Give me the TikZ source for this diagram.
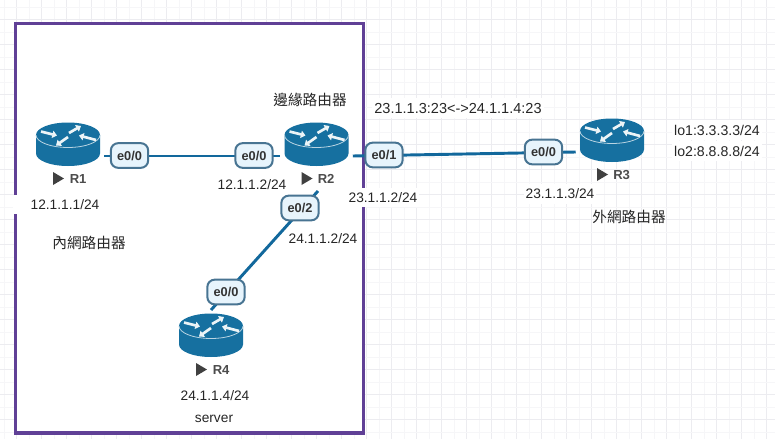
\documentclass[tikz,border=0pt]{standalone}
\usepackage{fontspec}
\setmainfont{Liberation Sans}
\newfontfamily\cjkfont{Noto Sans CJK TC}
\usetikzlibrary{arrows.meta}
\definecolor{boxpurple}{RGB}{96,64,150}
\definecolor{linkblue}{RGB}{18,104,156}
\definecolor{routerblue}{RGB}{22,112,160}
\definecolor{portfill}{RGB}{231,244,252}
\definecolor{portedge}{RGB}{72,116,146}
\definecolor{gridminor}{RGB}{246,246,248}
\definecolor{gridmajor}{RGB}{236,236,240}
\tikzset{
	iptext/.style={fill=white,inner xsep=1.5pt,inner ysep=3.5pt,font=\fontsize{10.3pt}{12pt}\selectfont,text=black!85},
	cjktext/.style={font=\cjkfont\fontsize{11pt}{12pt}\selectfont,text=black!85},
	port/.style={draw=portedge,fill=portfill,line width=1.5pt,rounded corners=5.5pt,minimum width=28pt,minimum height=18.5pt,inner sep=0pt,font=\bfseries\fontsize{9.6pt}{11pt}\selectfont,text=black!80},
	router/.style={minimum width=54pt,minimum height=20pt,inner sep=0pt},
	rname/.style={font=\bfseries\fontsize{9.8pt}{11pt}\selectfont,text=black!70,anchor=west,inner sep=0pt},
	link/.style={linkblue,line width=2.2pt},
	wing/.style={white!92!routerblue,line width=2pt,-{Triangle[length=3.5pt,width=5.5pt]}},
	routerpic/.pic={
		\fill[routerblue] (-32,-21) -- (-32,-2.5) arc[start angle=180,end angle=0,x radius=32,y radius=12.5] -- (32,-21) -- cycle;
		\fill[routerblue] (0,-21) ellipse[x radius=32,y radius=12.5];
		\draw[white!70!routerblue,line width=0.6pt] (-32,-21) arc[start angle=180,end angle=0,x radius=32,y radius=12.5];
		\draw[wing] (-27,-24.5) -- (-11,-20.5);
		\draw[wing] (1,-23) -- (13,-30);
		\draw[wing] (0,-19) -- (-12,-10.5);
		\draw[wing] (28,-16) -- (11,-20.5);
		% play mark under the router
		\fill[black!75] (-15,16) -- (-4,22.5) -- (-15,29) -- cycle;
	}
}

\begin{document}
\begin{tikzpicture}[x=0.75pt,y=-0.75pt,line cap=butt,line join=miter]
	\useasboundingbox (0,0) rectangle (775,439);
	\fill[white] (0,0) rectangle (775,439);

	% grid of the canvas
	\foreach \gx in {0,...,31} {
		\draw[gridminor,line width=0.75pt] (4+25*\gx,0)--(4+25*\gx,439);
		\draw[gridmajor,line width=0.75pt] (-8.5+25*\gx,0)--(-8.5+25*\gx,439);
	}
	\foreach \gy in {0,...,17} {
		\draw[gridminor,line width=0.75pt] (0,7+25*\gy)--(775,7+25*\gy);
		\draw[gridmajor,line width=0.75pt] (0,19.5+25*\gy)--(775,19.5+25*\gy);
	}

	% frame of the inside network
	\draw[boxpurple,line width=2.3pt,fill=white] (15.5,23.5) rectangle (363.5,433);

	% routers, placed at the height of their links
	\node[router] (R1) at (68,156) {};
	\node[router] (R2) at (316.5,156) {};
	\node[router] (R3) at (612,152) {};
	\node[router] (R4) at (211,347) {};
	\coordinate (R2low) at (318,191);
	\coordinate (R4top) at (211,310);

	% links
	\draw[link] (R1)--(R2);
	\draw[link] (R2.east)--(R3.west);
	\draw[link] (R2low)--(R4top);

	\pic at (R1) {routerpic};
	\pic at (R2) {routerpic};
	\pic at (R3) {routerpic};
	\pic at (R4) {routerpic};

	\node[rname] (nameR1) at (69.5,179) {R1};
	\node[rname] (nameR2) at (317.5,179) {R2};
	\node[rname] (nameR3) at (613,175) {R3};
	\node[rname] (nameR4) at (212.5,370) {R4};

	% interface labels
	\node[port] (p1) at (129.5,155.5) {e0/0};
	\node[port] (p2a) at (254,155.5) {e0/0};
	\node[port] (p2b) at (384,155) {e0/1};
	\node[port] (p2c) at (300,208) {e0/2};
	\node[port] (p3) at (543.5,152) {e0/0};
	\node[port] (p4) at (226,292) {e0/0};

	% addresses
	\node[iptext,inner xsep=13pt] (ipR1) at (65,204.5) {12.1.1.1/24};
	\node[iptext] (ipR2a) at (252,184.5) {12.1.1.2/24};
	\node[iptext] (ipR2b) at (383,197.5) {23.1.1.2/24};
	\node[iptext] (ipR2c) at (323,239) {24.1.1.2/24};
	\node[iptext] (ipR3) at (560,194) {23.1.1.3/24};
	\node[iptext] (ipR4) at (215,396) {24.1.1.4/24};
	\node[iptext] (srv) at (214,419) {server};
	\node[iptext,font=\fontsize{10.9pt}{12pt}\selectfont] (nat) at (458,108) {23.1.1.3:23<->24.1.1.4:23};
	\node[iptext,font=\fontsize{10.6pt}{12pt}\selectfont] (lo1) at (717,130) {lo1:3.3.3.3/24};
	\node[iptext,font=\fontsize{10.6pt}{12pt}\selectfont] (lo2) at (717,151) {lo2:8.8.8.8/24};

	% router roles
	\node[cjktext] (roleR1) at (89,243) {內網路由器};
	\node[cjktext] (roleR2) at (310,100) {邊緣路由器};
	\node[cjktext] (roleR3) at (629,216.5) {外網路由器};
\end{tikzpicture}
\end{document}
